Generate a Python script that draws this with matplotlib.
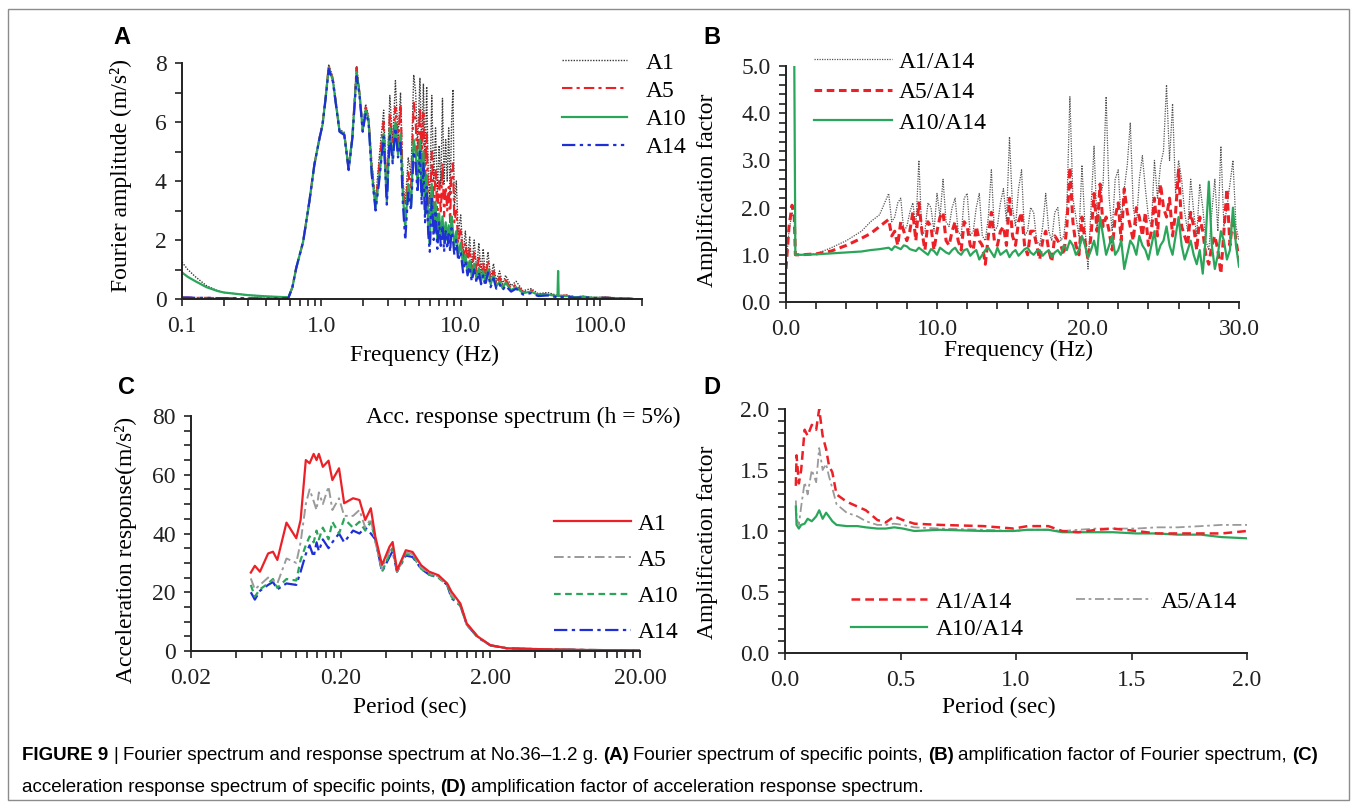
import numpy as np
import matplotlib.pyplot as plt
from matplotlib.ticker import MultipleLocator, FixedLocator, LogLocator, NullFormatter, FormatStrFormatter
from matplotlib.patches import Rectangle
from matplotlib.transforms import IdentityTransform

# ---------------- data ----------------
# (A) Fourier spectrum
freq_a = [0.1, 0.11, 0.125, 0.15, 0.18, 0.2, 0.25, 0.3, 0.4, 0.5, 0.58, 0.62, 0.66, 0.74, 0.82,
          0.89, 0.97, 1.02, 1.08, 1.13, 1.21, 1.35, 1.46, 1.57, 1.67, 1.79, 1.88, 1.98, 2.08, 2.18,
          2.3, 2.45, 2.6, 2.8, 2.95, 3.1, 3.25, 3.4, 3.55, 3.7, 3.85, 4.0, 4.2, 4.4, 4.6,
          4.75, 4.9, 5.1, 5.25, 5.4, 5.55, 5.7, 5.85, 6.0, 6.2, 6.4, 6.6, 6.8, 7.0, 7.2,
          7.4, 7.6, 7.8, 8.0, 8.2, 8.4, 8.6, 8.8, 9.0, 9.3, 9.6, 10.0, 10.4, 10.8, 11.2,
          11.6, 12.0, 12.5, 13.0, 13.5, 14.0, 14.5, 15.0, 15.7, 16.4, 17.2, 18.0, 19.0, 20.0, 21.0,
          23.0, 25.0, 28.0, 32.0, 36.0, 42.0, 49.5, 50.0, 50.5, 58.0, 66.0, 76.0, 90.0, 110.0, 130.0,
          150.0, 170.0]
a1 = [1.25, 1.0, 0.75, 0.45, 0.28, 0.22, 0.17, 0.13, 0.09, 0.07, 0.06, 0.4, 1.05, 1.94, 3.3,
      4.55, 5.45, 5.95, 7.0, 7.95, 7.5, 5.75, 5.65, 4.45, 5.55, 7.9, 7.0, 5.8, 6.6, 6.2,
      4.6, 3.3, 4.8, 6.4, 3.6, 6.9, 5.3, 7.4, 5.5, 7.0, 4.0, 3.2, 4.8, 4.2, 7.6,
      7.0, 5.2, 7.5, 5.0, 7.3, 4.6, 7.2, 4.2, 3.4, 6.9, 4.0, 5.8, 3.6, 5.2, 3.8,
      6.8, 3.9, 5.4, 4.0, 5.8, 3.5, 6.0, 7.1, 3.0, 4.0, 2.2, 2.85, 1.5, 2.3, 1.4,
      2.1, 1.1, 2.0, 1.0, 1.9, 0.9, 1.7, 0.8, 1.6, 0.7, 1.2, 0.6, 0.95, 0.5, 0.8,
      0.45, 0.6, 0.28, 0.35, 0.18, 0.22, 0.12, 0.15, 0.12, 0.13, 0.07, 0.09, 0.05, 0.06, 0.03,
      0.02, 0.01]
a5 = [0.05, 0.05, 0.04, 0.04, 0.03, 0.03, 0.03, 0.02, 0.02, 0.02, 0.03, 0.4, 1.05, 1.94, 3.3,
      4.55, 5.45, 5.95, 6.95, 7.9, 7.45, 5.7, 5.6, 4.4, 5.5, 7.85, 6.95, 5.75, 6.5, 6.1,
      4.5, 3.2, 4.5, 6.0, 3.5, 6.3, 5.0, 6.5, 5.2, 6.6, 3.8, 2.8, 4.3, 3.7, 6.7,
      6.0, 4.4, 6.5, 4.4, 6.3, 3.8, 5.6, 3.3, 2.6, 5.0, 3.0, 4.4, 2.7, 4.0, 2.9,
      4.6, 2.8, 3.8, 3.0, 3.8, 2.6, 4.5, 4.6, 2.6, 3.0, 1.9, 2.4, 1.3, 1.9, 1.2,
      1.7, 0.9, 1.6, 0.8, 1.4, 0.7, 1.2, 0.65, 1.3, 0.55, 0.95, 0.5, 0.75, 0.4, 0.65,
      0.35, 0.5, 0.22, 0.3, 0.15, 0.18, 0.1, 0.12, 0.1, 0.12, 0.06, 0.08, 0.04, 0.05, 0.03,
      0.02, 0.01]
a10 = [0.9, 0.75, 0.6, 0.4, 0.27, 0.22, 0.17, 0.13, 0.09, 0.07, 0.06, 0.4, 1.05, 1.94, 3.3,
       4.54, 5.45, 5.9, 6.95, 7.85, 7.4, 5.7, 5.6, 4.4, 5.5, 7.7, 6.95, 5.7, 6.4, 6.1,
       4.3, 3.1, 4.1, 5.6, 3.3, 5.8, 4.7, 6.0, 4.9, 5.6, 3.5, 2.4, 3.9, 3.2, 5.4,
       5.0, 3.9, 5.4, 3.5, 5.0, 2.9, 4.2, 2.5, 1.9, 3.9, 2.3, 3.3, 2.0, 2.9, 2.1,
       2.8, 1.9, 2.6, 2.0, 2.5, 1.9, 2.8, 2.3, 1.8, 2.3, 1.5, 1.9, 1.1, 1.5, 0.95,
       1.3, 0.75, 1.2, 0.65, 1.05, 0.6, 0.95, 0.55, 1.0, 0.5, 0.8, 0.42, 0.6, 0.36, 0.55,
       0.3, 0.4, 0.2, 0.25, 0.14, 0.15, 0.1, 0.95, 0.1, 0.1, 0.06, 0.07, 0.04, 0.04, 0.03,
       0.02, 0.01]
a14 = [0.05, 0.05, 0.04, 0.04, 0.03, 0.03, 0.03, 0.02, 0.02, 0.02, 0.03, 0.4, 1.05, 1.94, 3.3,
       4.54, 5.45, 5.9, 6.9, 7.8, 7.37, 5.67, 5.56, 4.37, 5.45, 7.55, 6.9, 5.67, 6.3, 6.0,
       4.2, 3.0, 4.0, 5.5, 3.2, 5.6, 4.6, 5.8, 4.8, 5.3, 3.2, 2.0, 3.6, 3.0, 5.0,
       4.6, 3.6, 5.0, 3.2, 4.6, 2.6, 3.8, 2.2, 1.6, 3.5, 2.0, 3.0, 1.7, 2.6, 1.8,
       2.5, 1.6, 2.3, 1.7, 2.2, 1.6, 2.4, 2.0, 1.5, 2.0, 1.3, 1.6, 0.9, 1.3, 0.8,
       1.1, 0.6, 1.0, 0.55, 0.9, 0.5, 0.8, 0.45, 0.9, 0.4, 0.7, 0.35, 0.5, 0.3, 0.45,
       0.25, 0.35, 0.15, 0.2, 0.1, 0.12, 0.06, 0.08, 0.06, 0.08, 0.04, 0.06, 0.03, 0.04, 0.02,
       0.01, 0.0]

# (B) amplification factor of Fourier spectrum
freq_b = [0.0, 0.2, 0.4, 0.55, 0.62, 0.7, 1.0, 2.0, 3.0, 4.0, 5.0, 5.6, 6.2,
          6.8, 7.0, 7.2, 7.4, 7.6, 7.8, 8.0, 8.2, 8.4, 8.6,
          8.8, 9.0, 9.2, 9.4, 9.6, 9.8, 10.0, 10.2, 10.4, 10.6,
          10.8, 11.0, 11.2, 11.4, 11.6, 11.8, 12.0, 12.2, 12.4, 12.6,
          12.8, 13.0, 13.2, 13.4, 13.6, 13.8, 14.0, 14.2, 14.4, 14.6,
          14.8, 15.0, 15.2, 15.4, 15.6, 15.8, 16.0, 16.2, 16.4, 16.6,
          16.8, 17.0, 17.2, 17.4, 17.6, 17.8, 18.0, 18.2, 18.4, 18.6,
          18.8, 19.0, 19.2, 19.4, 19.6, 19.8, 20.0, 20.2, 20.4, 20.6,
          20.8, 21.0, 21.2, 21.4, 21.6, 21.8, 22.0, 22.2, 22.4, 22.6,
          22.8, 23.0, 23.2, 23.4, 23.6, 23.8, 24.0, 24.2, 24.4, 24.6,
          24.8, 25.0, 25.2, 25.4, 25.6, 25.8, 26.0, 26.2, 26.4, 26.6,
          26.8, 27.0, 27.2, 27.4, 27.6, 27.8, 28.0, 28.2, 28.4, 28.6,
          28.8, 29.0, 29.2, 29.4, 29.6, 29.8, 30.0]
r1_14 = [0.8, 1.5, 1.9, 1.7, 1.0, 1.0, 1.0, 1.02, 1.15, 1.3, 1.5, 1.7, 1.85,
         2.3, 1.7, 1.8, 2.1, 2.2, 1.5, 1.6, 1.9, 2.1, 1.6,
         3.0, 1.4, 1.5, 2.1, 2.0, 1.5, 2.3, 1.8, 2.6, 1.7,
         1.6, 2.0, 2.2, 1.5, 1.4, 2.2, 2.3, 1.4, 1.5, 2.0,
         2.3, 1.4, 1.3, 1.8, 2.8, 1.5, 1.6, 2.1, 2.4, 1.7,
         3.5, 2.0, 1.6, 2.4, 2.8, 1.4, 1.5, 2.0, 1.9, 1.3,
         1.2, 1.6, 2.3, 1.5, 1.3, 1.9, 2.0, 1.3, 1.4, 2.0,
         4.35, 2.2, 1.8, 1.4, 2.9, 1.6, 0.7, 2.0, 3.3, 1.6,
         2.2, 2.5, 4.35, 2.2, 1.5, 2.6, 2.8, 1.7, 2.4, 2.9,
         3.8, 2.0, 1.6, 2.6, 3.1, 2.4, 1.8, 1.6, 3.0, 2.2,
         2.9, 3.2, 4.6, 3.0, 4.2, 2.3, 3.0, 2.6, 1.9, 1.5,
         2.6, 1.9, 1.4, 2.5, 2.0, 1.3, 1.1, 1.9, 2.6, 1.5,
         3.3, 1.6, 2.0, 2.5, 3.0, 1.6, 1.3]
r5_14 = [0.7, 1.6, 2.05, 1.8, 1.0, 1.0, 1.0, 1.02, 1.08, 1.2, 1.35, 1.45, 1.6,
         1.75, 1.4, 1.5, 1.2, 1.7, 1.5, 1.3, 1.5, 1.9, 1.3,
         2.1, 1.5, 1.1, 1.7, 1.6, 1.1, 1.5, 1.8, 1.9, 1.3,
         1.2, 1.5, 1.7, 1.3, 1.1, 1.7, 1.6, 1.2, 1.1, 1.6,
         1.3, 1.2, 0.8, 1.4, 1.9, 1.3, 1.2, 1.5, 1.6, 1.2,
         2.2, 1.4, 1.2, 1.7, 1.9, 1.2, 1.0, 1.5, 1.5, 1.2,
         0.9, 1.3, 1.5, 1.1, 0.85, 1.4, 1.3, 1.2, 1.0, 1.6,
         2.85, 1.7, 1.2, 1.0, 1.8, 1.3, 0.9, 1.4, 2.3, 1.5,
         2.5, 1.6, 1.8, 1.5, 1.1, 1.8, 2.1, 1.3, 2.4, 1.9,
         1.6, 1.3, 2.0, 1.8, 1.4, 1.9, 1.2, 1.5, 2.2, 1.4,
         2.5, 2.0, 1.8, 2.2, 1.4, 1.9, 2.8, 1.6, 1.4, 1.2,
         1.9, 1.6, 1.1, 1.8, 1.5, 1.0, 0.8, 1.2, 1.4, 1.1,
         0.6, 1.5, 2.4, 1.2, 1.8, 1.3, 0.9]
r10_14 = [np.nan, np.nan, np.nan, 5.0, 1.0, 1.0, 1.0, 1.01, 1.03, 1.05, 1.07, 1.1, 1.12,
          1.15, 1.1, 1.18, 1.15, 1.12, 1.2, 1.18, 1.12, 1.1, 1.08,
          1.15, 1.1, 1.05, 1.0, 1.12, 1.08, 1.0, 1.15, 1.1, 1.05,
          1.02, 1.1, 1.15, 1.05, 1.0, 1.1, 1.12, 0.98, 1.05, 1.1,
          0.9, 1.0, 1.1, 1.15, 1.05, 0.95, 1.15, 1.0, 1.05, 1.1,
          0.95, 1.05, 1.1, 0.98, 1.05, 1.12, 1.15, 1.05, 1.0, 1.08,
          1.1, 0.98, 1.05, 1.1, 0.95, 1.05, 1.1, 1.0, 1.2, 1.1,
          1.3, 1.2, 1.0, 1.1, 1.4, 1.2, 0.95, 1.1, 1.3, 1.0,
          1.8, 1.4, 1.0, 1.2, 1.4, 1.0, 1.1, 1.3, 0.7, 1.0,
          1.3, 1.2, 1.0, 1.4, 1.2, 1.1, 0.9, 1.2, 1.5, 1.0,
          1.2, 1.3, 1.6, 1.2, 1.0, 1.4, 1.8, 1.2, 0.9, 1.1,
          1.3, 1.0, 0.8, 1.1, 0.6, 1.4, 2.55, 1.2, 0.7, 1.0,
          1.5, 1.3, 0.9, 1.1, 2.0, 1.2, 0.75]

# (C) acceleration response spectrum (h = 5%)
period_c = [0.0502, 0.0534, 0.0578, 0.0655, 0.0706, 0.0755, 0.0869, 0.101, 0.108, 0.117,
            0.124, 0.132, 0.138, 0.143, 0.152, 0.166, 0.176, 0.195, 0.211, 0.242,
            0.267, 0.292, 0.318, 0.341, 0.378, 0.424, 0.445, 0.476, 0.545, 0.605,
            0.69, 0.78, 0.90, 1.03, 1.10, 1.26, 1.39, 1.65, 2.0, 2.6,
            4.5, 8.7, 20.0]
sa_a1 = [26.7, 29.0, 27.0, 33.2, 33.8, 31.0, 43.7, 38.4, 44.6, 65.0,
         63.9, 67.1, 65.0, 67.1, 62.7, 64.8, 58.2, 62.2, 50.3, 52.0,
         51.4, 44.6, 48.6, 38.9, 29.3, 35.5, 37.1, 27.5, 34.3, 33.7,
         29.2, 27.0, 25.8, 23.0, 20.2, 16.2, 9.4, 4.9, 2.0, 0.9,
         0.6, 0.35, 0.2]
sa_a5 = [24.7, 21.0, 22.5, 25.0, 24.0, 23.0, 31.5, 30.0, 37.0, 50.0,
         55.0, 51.0, 48.0, 54.0, 50.0, 56.0, 48.0, 52.0, 46.0, 46.0,
         48.0, 42.0, 45.0, 37.0, 28.0, 34.0, 36.0, 27.0, 33.5, 33.0,
         28.5, 26.5, 25.3, 22.5, 19.0, 16.0, 9.2, 4.8, 2.0, 0.9,
         0.6, 0.35, 0.2]
sa_a10 = [22.5, 18.5, 21.0, 23.0, 24.5, 21.5, 24.5, 24.0, 31.0, 36.0,
          39.0, 37.0, 41.0, 38.0, 42.0, 38.0, 44.0, 40.0, 45.0, 42.0,
          44.0, 41.0, 44.0, 38.0, 27.0, 33.0, 35.0, 27.0, 33.0, 32.5,
          28.0, 26.0, 25.0, 22.5, 18.5, 15.5, 9.0, 4.7, 1.9, 0.9,
          0.6, 0.35, 0.2]
sa_a14 = [20.0, 17.5, 20.5, 22.5, 23.5, 21.0, 23.0, 22.5, 27.0, 33.0,
          36.0, 32.0, 37.0, 34.0, 38.0, 35.0, 37.0, 40.0, 37.0, 41.0,
          40.0, 42.0, 40.0, 38.0, 27.0, 32.0, 34.0, 27.0, 32.5, 32.0,
          28.0, 26.0, 25.0, 22.5, 18.0, 15.5, 9.0, 4.6, 1.9, 0.9,
          0.6, 0.35, 0.2]

# (D) amplification factor of acceleration response spectrum
period_d = [0.047, 0.05, 0.06, 0.07, 0.085, 0.098, 0.116, 0.135, 0.148, 0.163,
            0.178, 0.19, 0.205, 0.223, 0.267, 0.314, 0.35, 0.40, 0.436, 0.473,
            0.51, 0.56, 0.67, 0.86, 0.99, 1.05, 1.14, 1.2, 1.27, 1.35,
            1.42, 1.52, 1.61, 1.70, 1.80, 1.89, 2.0]
d1_14 = [1.37, 1.62, 1.39, 1.5, 1.83, 1.78, 1.87, 1.83, 2.0, 1.78,
         1.67, 1.54, 1.48, 1.30, 1.24, 1.20, 1.17, 1.09, 1.07, 1.12,
         1.09, 1.06, 1.05, 1.04, 1.02, 1.04, 1.04, 1.0, 0.99, 1.01,
         1.02, 1.0, 0.98, 0.98, 0.98, 0.98, 1.0]
d5_14 = [1.25, 1.1, 1.05, 1.2, 1.4, 1.3, 1.5, 1.4, 1.68, 1.5,
         1.55, 1.45, 1.35, 1.22, 1.15, 1.12, 1.08, 1.05, 1.05, 1.06,
         1.05, 1.03, 1.02, 1.01, 1.0, 1.01, 1.01, 1.0, 1.01, 1.02,
         1.02, 1.02, 1.03, 1.03, 1.04, 1.05, 1.05]
d10_14 = [1.2, 1.05, 1.02, 1.05, 1.06, 1.1, 1.08, 1.12, 1.17, 1.1,
          1.15, 1.12, 1.08, 1.05, 1.04, 1.04, 1.03, 1.02, 1.02, 1.03,
          1.02, 1.0, 1.01, 1.0, 1.0, 1.01, 1.01, 0.99, 0.99, 0.99,
          0.99, 0.98, 0.98, 0.97, 0.97, 0.95, 0.94]

# ---------------- figure ----------------
W, H = 1356, 808
SERIF = 'Liberation Serif'
SANS = 'Liberation Sans'
plt.rcParams['font.family'] = SERIF
plt.rcParams['axes.linewidth'] = 1.4

fig = plt.figure(figsize=(W / 100, H / 100), dpi=100)
fig.patches.append(Rectangle((8 / W, 1 - 800 / H), 1341 / W, 791 / H, transform=fig.transFigure,
                             fill=False, edgecolor='#8c8c8c', linewidth=1.0))

RED = '#ec2127'
GREEN = '#2aa65a'
BLUE = '#1f2fd6'
BLACK = '#3a3a3a'
GRAY = '#9a9a9a'


def px_axes(left, top, right, bottom):
    return fig.add_axes([left / W, 1 - bottom / H, (right - left) / W, (bottom - top) / H])


def style(ax):
    for s in ['top', 'right']:
        ax.spines[s].set_visible(False)
    for s in ['left', 'bottom']:
        ax.spines[s].set_color('#222222')
    ax.tick_params(which='both', direction='out', length=5, width=1.2, colors='#222222',
                   labelsize=17)
    ax.tick_params(axis='x', which='both', pad=7)
    ax.tick_params(axis='y', which='both', pad=6)


def ftext(x, y, s, **kw):
    # text placed in pixel coords measured from the top-left
    kw.setdefault('fontsize', 17)
    return fig.text(x / W, 1 - y / H, s, **kw)


def legend(ax, handles, labels, x, y, **kw):
    ax.legend(handles, labels, loc='upper left', bbox_to_anchor=(x / W, 1 - y / H),
              bbox_transform=fig.transFigure, frameon=False, borderpad=0, borderaxespad=0,
              prop={'family': SERIF, 'size': 17}, **kw)


# ---- A ----
ax = px_axes(182, 63, 642, 299)
style(ax)
la1, = ax.plot(freq_a, a1, color=BLACK, lw=1.0, ls=(0, (1, 1)))
la5, = ax.plot(freq_a, a5, color=RED, lw=1.5, ls=(0, (5, 2, 1.5, 2)))
la10, = ax.plot(freq_a, a10, color=GREEN, lw=1.6)
la14, = ax.plot(freq_a, a14, color=BLUE, lw=1.6, ls=(0, (6, 2, 1.5, 2, 1.5, 2)))
ax.set_xscale('log')
ax.set_xlim(0.1, 200)
ax.set_ylim(0, 8)
ax.xaxis.set_major_locator(FixedLocator([0.1, 1, 10, 100]))
ax.set_xticklabels(['0.1', '1.0', '10.0', '100.0'])
ax.xaxis.set_minor_locator(LogLocator(base=10, subs=np.arange(2, 10)))
ax.xaxis.set_minor_formatter(NullFormatter())
ax.yaxis.set_major_locator(MultipleLocator(2))
ax.yaxis.set_minor_locator(MultipleLocator(1))
legend(ax, [la1, la5, la10, la14], ['A1', 'A5', 'A10', 'A14'], 562, 52,
       handlelength=2.75, handletextpad=0.8, labelspacing=0.28)
ftext(121, 175, 'Fourier amplitude (m/s²)', rotation=90, ha='center', va='center')
ftext(425, 355, 'Frequency (Hz)', ha='center', va='center')
ftext(122, 38, 'A', family=SANS, fontweight='bold', ha='center', va='center')

# ---- B ----
ax = px_axes(786, 66, 1239, 302)
style(ax)
lb1, = ax.plot(freq_b, r1_14, color='#555555', lw=0.9, ls=(0, (1, 1)))
lb5, = ax.plot(freq_b, r5_14, color=RED, lw=2.2, ls=(0, (2.5, 1.5)))
lb10, = ax.plot(freq_b, r10_14, color=GREEN, lw=1.6)
ax.set_xlim(0, 30)
ax.set_ylim(0, 5)
ax.xaxis.set_major_locator(MultipleLocator(10))
ax.xaxis.set_minor_locator(MultipleLocator(2))
ax.yaxis.set_major_locator(MultipleLocator(1))
ax.yaxis.set_minor_locator(MultipleLocator(0.2))
ax.xaxis.set_major_formatter(FormatStrFormatter('%.1f'))
ax.yaxis.set_major_formatter(FormatStrFormatter('%.1f'))
legend(ax, [lb1, lb5, lb10], ['A1/A14', 'A5/A14', 'A10/A14'], 814, 51,
       handlelength=3.3, handletextpad=0.3, labelspacing=0.38)
ftext(708, 190, 'Amplification factor', rotation=90, ha='center', va='center')
ftext(1018, 350, 'Frequency (Hz)', ha='center', va='center')
ftext(712, 37, 'B', family=SANS, fontweight='bold', ha='center', va='center')

# ---- C ----
ax = px_axes(191, 416, 640, 651)
style(ax)
lc14, = ax.plot(period_c, sa_a14, color=BLUE, lw=1.6, ls=(0, (6, 2, 1.5, 2)))
lc10, = ax.plot(period_c, sa_a10, color=GREEN, lw=1.6, ls=(0, (3, 2)))
lc5, = ax.plot(period_c, sa_a5, color=GRAY, lw=1.4, ls=(0, (5, 2, 1.5, 2)))
lc1, = ax.plot(period_c, sa_a1, color=RED, lw=1.6)
ax.set_xscale('log')
ax.set_xlim(0.02, 20)
ax.set_ylim(0, 80)
ax.xaxis.set_major_locator(FixedLocator([0.02, 0.2, 2, 20]))
ax.set_xticklabels(['0.02', '0.20', '2.00', '20.00'])
ax.xaxis.set_minor_locator(FixedLocator([0.02 * k * 10 ** d for d in range(3) for k in range(2, 10)]))
ax.xaxis.set_minor_formatter(NullFormatter())
ax.yaxis.set_major_locator(MultipleLocator(20))
ax.yaxis.set_minor_locator(MultipleLocator(5))
legend(ax, [lc1, lc5, lc10, lc14], ['A1', 'A5', 'A10', 'A14'], 554, 513,
       handlelength=3.26, handletextpad=0.3, labelspacing=0.62)
ftext(366, 417, 'Acc. response spectrum (h = 5%)', ha='left', va='center')
ftext(126, 550, 'Acceleration response(m/s²)', rotation=90, ha='center', va='center')
ftext(410, 707, 'Period (sec)', ha='center', va='center')
ftext(126, 388, 'C', family=SANS, fontweight='bold', ha='center', va='center')

# ---- D ----
ax = px_axes(785, 409, 1247, 653)
style(ax)
ld5, = ax.plot(period_d, d5_14, color=GRAY, lw=1.3, ls=(0, (5, 2, 1.5, 2)))
ld10, = ax.plot(period_d, d10_14, color=GREEN, lw=1.6)
ld1, = ax.plot(period_d, d1_14, color=RED, lw=1.8, ls=(0, (3.5, 2)))
ax.set_xlim(0, 2)
ax.set_ylim(0, 2)
ax.xaxis.set_major_locator(MultipleLocator(0.5))
ax.yaxis.set_major_locator(MultipleLocator(0.5))
ax.yaxis.set_minor_locator(MultipleLocator(0.1))
ax.xaxis.set_major_formatter(FormatStrFormatter('%.1f'))
ax.yaxis.set_major_formatter(FormatStrFormatter('%.1f'))
legend(ax, [ld1, ld10, ld5], ['A1/A14', 'A10/A14', 'A5/A14'], 851, 591, ncol=2,
       handlelength=3.2, handletextpad=0.4, labelspacing=0.25, columnspacing=2.2)
ftext(708, 542, 'Amplification factor', rotation=90, ha='center', va='center')
ftext(999, 707, 'Period (sec)', ha='center', va='center')
ftext(712, 388, 'D', family=SANS, fontweight='bold', ha='center', va='center')

# ---- caption ----
renderer = fig.canvas.get_renderer()
GAP = 4.8


def caption_line(x, y, parts):
    for s, bold in parts:
        t = fig.text(x, H - y, s, transform=IdentityTransform(), fontsize=13.5, family=SANS,
                     fontweight='bold' if bold else 'normal', va='center', ha='left')
        x = t.get_window_extent(renderer).x1 + GAP


caption_line(22, 755, [('FIGURE 9', True), ('|', False),
                       ('Fourier spectrum and response spectrum at No.36–1.2 g.', False),
                       ('(A)', True), ('Fourier spectrum of specific points,', False),
                       ('(B)', True), ('amplification factor of Fourier spectrum,', False),
                       ('(C)', True)])
caption_line(22, 787, [('acceleration response spectrum of specific points,', False),
                       ('(D)', True),
                       ('amplification factor of acceleration response spectrum.', False)])

fig.savefig('out.png', dpi=100)
